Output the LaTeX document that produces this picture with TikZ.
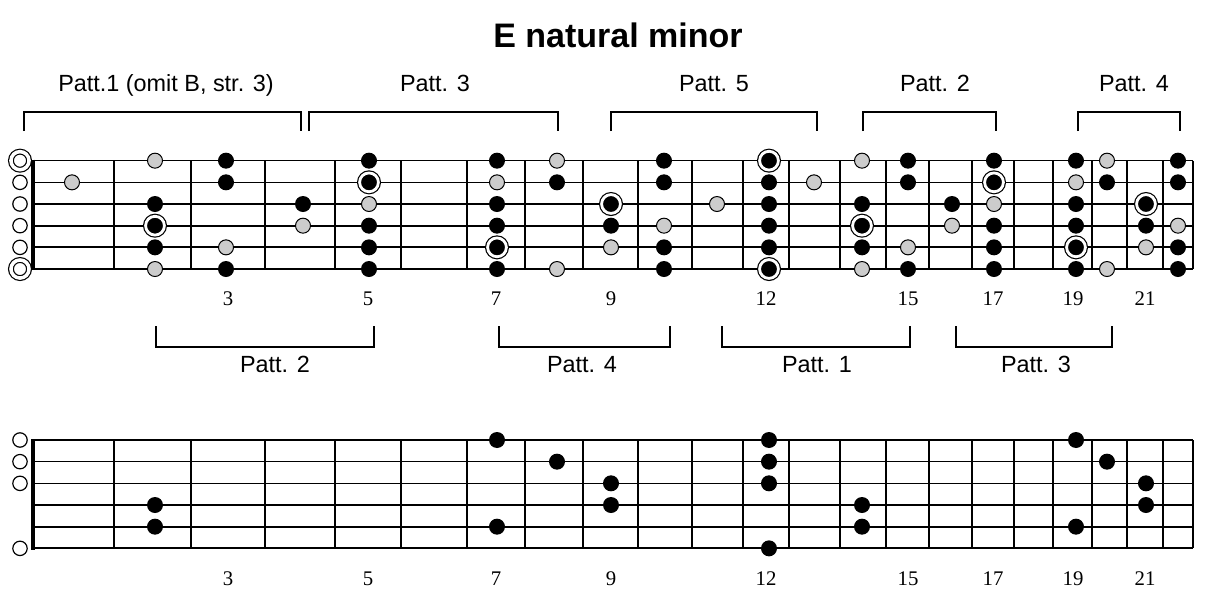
\documentclass[tikz,border=0pt]{standalone}
\usepackage{fontspec}
\setmainfont{Liberation Serif}
\setsansfont{Liberation Sans}
\begin{document}
\begin{tikzpicture}[x=0.5pt,y=-0.5pt,
  blackdot/.style={circle,inner sep=0pt,minimum size=8pt,fill=black},
  greydot/.style={circle,inner sep=0pt,minimum size=7.5pt,fill=black!20,draw=black,line width=0.5pt},
  rootdot/.style={circle,inner sep=0pt,minimum size=9.4pt,fill=black,draw=black,double=white,double distance=1.4pt,line width=0.6pt},
  openstr/.style={circle,inner sep=0pt,minimum size=7.2pt,fill=white,draw=black,line width=0.6pt},
  openroot/.style={openstr,minimum size=9.05pt,double=white,double distance=1.75pt},
  pattlabel/.style={anchor=base,font=\sffamily\fontsize{11.7}{14}\selectfont},
  fretlabel/.style={anchor=base,font=\fontsize{10.4}{12}\selectfont},
  bracket/.style={line width=0.6pt}]
\useasboundingbox (0,0) rectangle (1212,605);
\def\notex{{20,72,155,226,303,369,434,497,557,611,664,717,769,814,862,908,952,994,1034,1076,1107,1146,1178}}
\node[font=\sffamily\bfseries\fontsize{17}{20}\selectfont] (title) at (618,35) {E natural minor};

\foreach \t in {160.7,440}{
  \foreach \s in {0,1,2}
    \draw[line width=0.65pt] (33,\t+\s*21.67) -- (1193,\t+\s*21.67);
  \foreach \s in {3,4,5}
    \draw[line width=0.95pt] (33,\t+\s*21.67) -- (1193,\t+\s*21.67);
  \foreach \f in {114,191,265,335,401,467,525,583,638,692,743,789,840,886,929,972,1014,1053,1092,1127,1163,1193}
    \draw[line width=0.9pt] (\f,\t) -- (\f,\t+108.35);
  \draw[line width=2.4pt] (33,\t-1) -- (33,\t+109.5);
}

\foreach \f/\x in {3/228,5/368,7/496,9/611,12/766,15/908,17/993,19/1073,21/1145}{
  \node[fretlabel] (ta\f) at (\x,305) {\f};
  \node[fretlabel] (ba\f) at (\x,585) {\f};
}

\foreach \s in {2,3,4,5}
  \node[openstr] (to\s) at (20,139+\s*21.67) {};
\foreach \s in {1,6}
  \node[openroot] (to\s) at (20,139+\s*21.67) {};
\foreach \s/\f in {1/3,1/5,1/7,1/10,1/15,1/17,1/19,1/22,2/3,2/8,2/10,2/12,2/15,2/20,2/22,
    3/2,3/4,3/7,3/12,3/14,3/16,3/19,4/5,4/7,4/9,4/12,4/17,4/19,4/21,
    5/2,5/5,5/10,5/12,5/14,5/17,5/22,6/3,6/5,6/7,6/10,6/15,6/17,6/19,6/22}{
  \pgfmathsetmacro\x{\notex[\f]}
  \node[blackdot] (t\s-\f) at (\x,139+\s*21.67) {};
}
\foreach \s/\f in {1/2,1/8,1/14,1/20,2/1,2/7,2/13,2/19,3/5,3/11,3/17,
    4/4,4/10,4/16,4/22,5/3,5/9,5/15,5/21,6/2,6/8,6/14,6/20}{
  \pgfmathsetmacro\x{\notex[\f]}
  \node[greydot] (t\s-\f) at (\x,139+\s*21.67) {};
}
\foreach \s/\f in {1/12,2/5,2/17,3/9,3/21,4/2,4/14,5/7,5/19,6/12}{
  \pgfmathsetmacro\x{\notex[\f]}
  \node[rootdot] (t\s-\f) at (\x,139+\s*21.67) {};
}

\foreach \s in {1,2,3,6}
  \node[openstr] (bo\s) at (20,418.33+\s*21.67) {};
\foreach \s/\f in {1/7,1/12,1/19,2/8,2/12,2/20,3/9,3/12,3/21,4/2,4/9,4/14,4/21,
    5/2,5/7,5/14,5/19,6/12}{
  \pgfmathsetmacro\x{\notex[\f]}
  \node[blackdot] (b\s-\f) at (\x,418.33+\s*21.67) {};
}

\foreach \a/\b in {24/301,309/558,611/817,863/996,1078/1180}
  \draw[bracket] (\a,131) -- (\a,112) -- (\b,112) -- (\b,131);
\node[pattlabel] (p1) at (166,91) {Patt.1 (omit B, str. 3)};
\node[pattlabel] (p3) at (435,91) {Patt. 3};
\node[pattlabel] (p5) at (714,91) {Patt. 5};
\node[pattlabel] (p2) at (935,91) {Patt. 2};
\node[pattlabel] (p4) at (1134,91) {Patt. 4};

\foreach \a/\b in {156/374,499/670,722/910,956/1112}
  \draw[bracket] (\a,326) -- (\a,347) -- (\b,347) -- (\b,326);
\node[pattlabel] (q2) at (275,372) {Patt. 2};
\node[pattlabel] (q4) at (582,372) {Patt. 4};
\node[pattlabel] (q1) at (817,372) {Patt. 1};
\node[pattlabel] (q3) at (1036,372) {Patt. 3};
\end{tikzpicture}
\end{document}
